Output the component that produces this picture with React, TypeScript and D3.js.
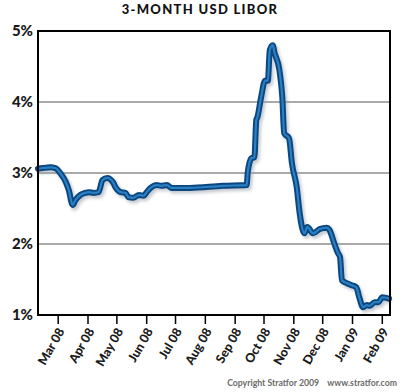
import { useMemo } from "react";
import * as d3 from "d3";

const dates = [
  "2008-02-09", "2008-02-14", "2008-02-22", "2008-02-27", "2008-03-03", "2008-03-09",
  "2008-03-12", "2008-03-16", "2008-03-19", "2008-03-24", "2008-03-29", "2008-04-02",
  "2008-04-07", "2008-04-12", "2008-04-16", "2008-04-21", "2008-04-27", "2008-04-30",
  "2008-05-05", "2008-05-10", "2008-05-13", "2008-05-18", "2008-05-24", "2008-05-29",
  "2008-06-01", "2008-06-06", "2008-06-11", "2008-06-16", "2008-06-22", "2008-06-27",
  "2008-07-16", "2008-08-19", "2008-09-13", "2008-09-14", "2008-09-16", "2008-09-18",
  "2008-09-21", "2008-09-23", "2008-09-24", "2008-09-28", "2008-10-02", "2008-10-05",
  "2008-10-07", "2008-10-10", "2008-10-12", "2008-10-17", "2008-10-20", "2008-10-22",
  "2008-10-27", "2008-10-30", "2008-11-04", "2008-11-07", "2008-11-12", "2008-11-15",
  "2008-11-21", "2008-11-28", "2008-12-05", "2008-12-08", "2008-12-13", "2008-12-17",
  "2008-12-19", "2008-12-21", "2008-12-26", "2008-12-31", "2009-01-05", "2009-01-08",
  "2009-01-12", "2009-01-16", "2009-01-19", "2009-01-24", "2009-01-28", "2009-02-01",
  "2009-02-08",
];

const rates = [
  3.06, 3.07, 3.08, 3.07, 3.0, 2.87,
  2.76, 2.55, 2.62, 2.69, 2.72, 2.73,
  2.72, 2.73, 2.9, 2.93, 2.87, 2.79,
  2.73, 2.72, 2.66, 2.65, 2.69, 2.68,
  2.73, 2.8, 2.83, 2.82, 2.83, 2.79,
  2.79, 2.82, 2.83, 3.0, 3.15, 3.21,
  3.22, 3.75, 3.78, 4.07, 4.3, 4.3,
  4.73, 4.8, 4.69, 4.45, 4.07, 3.56,
  3.49, 3.14, 2.8, 2.44, 2.15, 2.24,
  2.15, 2.21, 2.23, 2.2, 2.01, 1.87,
  1.82, 1.49, 1.45, 1.42, 1.39, 1.25,
  1.11, 1.14, 1.13, 1.18, 1.18, 1.25,
  1.23,
];

const yTicks = [1, 2, 3, 4, 5];
const gridValues = [2, 3, 4];
const monthTicks = [
  "2008-03-01", "2008-04-01", "2008-05-01", "2008-06-01", "2008-07-01", "2008-08-01",
  "2008-09-01", "2008-10-01", "2008-11-01", "2008-12-01", "2009-01-01", "2009-02-01",
];

const font = "Lato, 'Open Sans', 'DejaVu Sans', sans-serif";

export default function App() {
  const margin = { top: 31, right: 10, bottom: 77, left: 38 };
  const width = 400;
  const height = 392;
  const parse = d3.timeParse("%Y-%m-%d");

  const x = d3.scaleTime()
    .domain([parse("2008-02-09")!, parse("2009-02-09")!])
    .range([margin.left, width - margin.right]);
  const y = d3.scaleLinear()
    .domain([1, 5])
    .range([height - margin.bottom, margin.top]);

  const points = useMemo(
    () => dates.map((d, i) => ({ date: parse(d)!, value: rates[i] })),
    []
  );

  const line = d3.line<{ date: Date; value: number }>()
    .x(d => x(d.date))
    .y(d => y(d.value))
    .curve(d3.curveMonotoneX);
  const path = line(points) || "";

  const fmt = d3.timeFormat("%b %y");
  const x0 = margin.left;
  const x1 = width - margin.right;
  const y0 = height - margin.bottom;
  const y1 = margin.top;

  return (
    <svg width={width} height={height}
      style={{ position: "absolute", left: 0, top: 0, background: "#fff" }}>
      <defs>
        <filter id="shadow" x="-10%" y="-10%" width="120%" height="120%">
          <feGaussianBlur stdDeviation="1.5" />
        </filter>
      </defs>

      <text x={200} y={14} textAnchor="middle" fontFamily={font} fontWeight="900"
        fontSize={13} letterSpacing={1.3} fill="#111">3-MONTH USD LIBOR</text>

      {gridValues.map(v => (
        <line key={v} x1={x0} x2={x1} y1={y(v)} y2={y(v)} stroke="#555" strokeWidth={1} />
      ))}

      {yTicks.map(v => (
        <text key={v} x={33} y={y(v)} dy="0.36em" textAnchor="end" fontFamily={font}
          fontWeight="900" fontSize={15} fill="#1a1a1a">{v}%</text>
      ))}

      <path d={path} fill="none" stroke="#9aa3ad" strokeOpacity={0.55} strokeWidth={6.5}
        strokeLinejoin="round" transform="translate(2,2.5)" filter="url(#shadow)" />
      <path d={path} fill="none" stroke="#0a4680" strokeWidth={6} strokeLinejoin="round"
        strokeLinecap="round" />
      <path d={path} fill="none" stroke="#2a80c2" strokeWidth={2.2} strokeLinejoin="round"
        strokeLinecap="round" />

      <rect x={x0} y={y1} width={x1 - x0} height={y0 - y1} fill="none" stroke="#000"
        strokeWidth={2} />

      {monthTicks.map(t => {
        const d = parse(t)!;
        const px = x(d);
        return (
          <g key={t} transform={`translate(${px},${y0})`}>
            <line y1={1} y2={9} stroke="#000" strokeWidth={1.5} />
            <text transform="translate(3,14) rotate(-60)" textAnchor="end" dy="0.35em"
              fontFamily={font} fontWeight="900" fontSize={12.5} fill="#1a1a1a">
              {fmt(d)}
            </text>
          </g>
        );
      })}

      <text x={397} y={386} textAnchor="end" fontFamily={font} fontWeight="bold"
        fontSize={8.7} fill="#6b6b6b" xmlSpace="preserve">
        {"Copyright Stratfor 2009    www.stratfor.com"}
      </text>
    </svg>
  );
}
